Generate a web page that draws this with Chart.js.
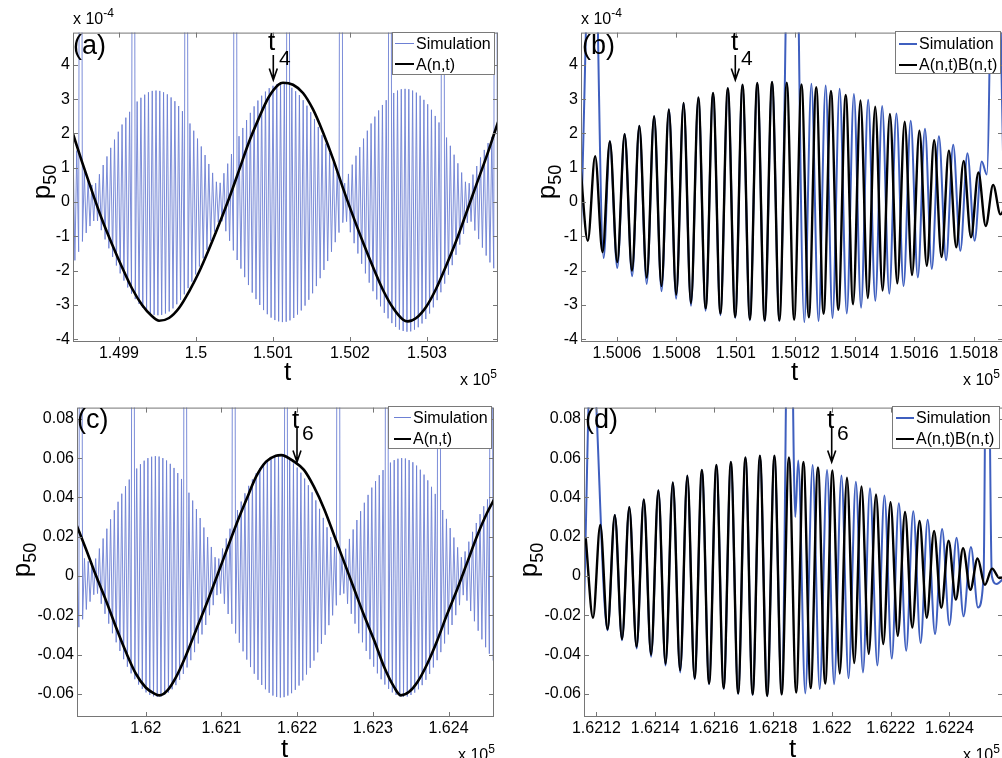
<!DOCTYPE html>
<html>
<head>
<meta charset="utf-8">
<script src="https://cdn.jsdelivr.net/npm/chart.js@4"></script>
<style>
html, body { margin: 0; padding: 0; background: #fff; }
body { width: 1002px; height: 758px; overflow: hidden; position: relative; font-family: "Liberation Sans", Arial, sans-serif; color: #000; }
canvas { position: absolute; }
.tx { position: absolute; white-space: nowrap; line-height: 1; }
.leg { position: absolute; background: #fff; border: 1px solid #7a7a7a; box-sizing: border-box; font-size: 16px; }
.leg .ls { position: absolute; height: 0; }
.leg .lt { position: absolute; white-space: nowrap; line-height: 1; }
.ylab { position: absolute; white-space: nowrap; line-height: 1; font-size: 26px; transform: translate(-50%, -50%) rotate(-90deg); }
.ylab span { font-size: 18px; position: relative; top: 6px; }
svg { position: absolute; left: 0; top: 0; overflow: visible; }
</style>
</head>
<body>

<canvas id="pa" width="503" height="352" style="left:3px;top:20px"></canvas>
<canvas id="pb" width="500" height="352" style="left:511px;top:20px"></canvas>
<canvas id="pc" width="495" height="352" style="left:7px;top:395px"></canvas>
<canvas id="pd" width="497" height="352" style="left:514px;top:395px"></canvas>

<!-- arrows -->
<svg width="1002" height="758">
  <g stroke="#000" stroke-width="1.6" fill="none">
    <path d="M273.3 55 V80 M269.3 68.5 L273.3 80 L277.3 68.5"/>
    <path d="M735.3 55 V80 M731.3 68.5 L735.3 80 L739.3 68.5"/>
    <path d="M297 427 V462 M293 450.5 L297 462 L301 450.5"/>
    <path d="M831.7 427 V462 M827.7 450.5 L831.7 462 L835.7 450.5"/>
  </g>
</svg>

<!-- panel letters -->
<div class="tx" style="font-size:27px;left:73px;top:32px">(a)</div>
<div class="tx" style="font-size:27px;left:582px;top:32px">(b)</div>
<div class="tx" style="font-size:27px;left:77px;top:406px">(c)</div>
<div class="tx" style="font-size:27px;left:585px;top:406px">(d)</div>

<!-- t markers -->
<div class="tx" style="font-size:26px;left:268px;top:28px">t</div>
<div class="tx" style="font-size:21px;left:279px;top:47px">4</div>
<div class="tx" style="font-size:26px;left:731px;top:28px">t</div>
<div class="tx" style="font-size:21px;left:741px;top:47px">4</div>
<div class="tx" style="font-size:26px;left:292px;top:406px">t</div>
<div class="tx" style="font-size:21px;left:302px;top:422px">6</div>
<div class="tx" style="font-size:26px;left:827px;top:406px">t</div>
<div class="tx" style="font-size:21px;left:837px;top:422px">6</div>

<!-- axis titles -->
<div class="tx" style="font-size:26px;left:284px;top:358px">t</div>
<div class="tx" style="font-size:26px;left:791px;top:358px">t</div>
<div class="tx" style="font-size:26px;left:281px;top:735px">t</div>
<div class="tx" style="font-size:26px;left:789px;top:735px">t</div>
<div class="ylab" style="left:41px;top:182px">p<span>50</span></div>
<div class="ylab" style="left:546px;top:182px">p<span>50</span></div>
<div class="ylab" style="left:21px;top:560px">p<span>50</span></div>
<div class="ylab" style="left:528px;top:560px">p<span>50</span></div>

<!-- exponent labels -->
<div class="tx" style="font-size:16px;left:73px;top:11px">x 10<span style="font-size:12px;position:relative;top:-7px">-4</span></div>
<div class="tx" style="font-size:16px;left:581px;top:11px">x 10<span style="font-size:12px;position:relative;top:-7px">-4</span></div>
<div class="tx" style="font-size:16px;left:460px;top:372px">x 10<span style="font-size:12px;position:relative;top:-7px">5</span></div>
<div class="tx" style="font-size:16px;left:963px;top:372px">x 10<span style="font-size:12px;position:relative;top:-7px">5</span></div>
<div class="tx" style="font-size:16px;left:458px;top:747px">x 10<span style="font-size:12px;position:relative;top:-7px">5</span></div>
<div class="tx" style="font-size:16px;left:963px;top:747px">x 10<span style="font-size:12px;position:relative;top:-7px">5</span></div>

<!-- legends -->
<div class="leg" style="left:392px;top:32px;width:103px;height:43px">
  <span class="ls" style="left:2px;top:10px;width:19px;border-top:1px solid #6d80d4"></span>
  <span class="lt" style="left:23px;top:3px">Simulation</span>
  <span class="ls" style="left:2px;top:30px;width:19px;border-top:2.5px solid #000"></span>
  <span class="lt" style="left:23px;top:24px">A(n,t)</span>
</div>
<div class="leg" style="left:895px;top:31px;width:106px;height:43px">
  <span class="ls" style="left:3px;top:11px;width:18px;border-top:2px solid #3f5fbf"></span>
  <span class="lt" style="left:23px;top:4px">Simulation</span>
  <span class="ls" style="left:3px;top:32px;width:18px;border-top:2px solid #000"></span>
  <span class="lt" style="left:23px;top:25px">A(n,t)B(n,t)</span>
</div>
<div class="leg" style="left:388px;top:406px;width:104px;height:43px">
  <span class="ls" style="left:5px;top:10px;width:17px;border-top:1px solid #6d80d4"></span>
  <span class="lt" style="left:24px;top:3px">Simulation</span>
  <span class="ls" style="left:5px;top:31px;width:17px;border-top:2.5px solid #000"></span>
  <span class="lt" style="left:24px;top:24px">A(n,t)</span>
</div>
<div class="leg" style="left:892px;top:406px;width:108px;height:43px">
  <span class="ls" style="left:3px;top:10px;width:18px;border-top:2px solid #3f5fbf"></span>
  <span class="lt" style="left:23px;top:3px">Simulation</span>
  <span class="ls" style="left:3px;top:31px;width:18px;border-top:2px solid #000"></span>
  <span class="lt" style="left:23px;top:24px">A(n,t)B(n,t)</span>
</div>

<script>
// ── TICKS ──
const yTicksAB = [-4, -3, -2, -1, 0, 1, 2, 3, 4];
const yLabelsAB = ['-4', '-3', '-2', '-1', '0', '1', '2', '3', '4'];
const yTicksCD = [-0.06, -0.04, -0.02, 0, 0.02, 0.04, 0.06, 0.08];
const yLabelsCD = ['-0.06', '-0.04', '-0.02', '0', '0.02', '0.04', '0.06', '0.08'];
const xTicksA = [149900, 150000, 150100, 150200, 150300];
const xLabelsA = ['1.499', '1.5', '1.501', '1.502', '1.503'];
const xTicksB = [150060, 150080, 150100, 150120, 150140, 150160, 150180];
const xLabelsB = ['1.5006', '1.5008', '1.501', '1.5012', '1.5014', '1.5016', '1.5018'];
const xTicksC = [162000, 162100, 162200, 162300, 162400];
const xLabelsC = ['1.62', '1.621', '1.622', '1.623', '1.624'];
const xTicksD = [162120, 162140, 162160, 162180, 162200, 162220, 162240];
const xLabelsD = ['1.6212', '1.6214', '1.6216', '1.6218', '1.622', '1.6222', '1.6224'];

// ── PANEL (a): envelope A(n,t), p50 in units of 1e-4 ──
const tA = [149840, 149852, 149865, 149878, 149891, 149904, 149917, 149930, 149943, 149952,
  149965, 149978, 149991, 150004, 150017, 150030, 150043, 150056, 150068, 150081,
  150094, 150107, 150113, 150126, 150139, 150152, 150165, 150178, 150191, 150204,
  150217, 150230, 150243, 150256, 150269, 150275, 150286, 150299, 150312, 150325,
  150338, 150351, 150364, 150377, 150390, 150393];
const envA = [2.01, 1.17, 0.31, -0.51, -1.23, -1.9, -2.52, -3.0, -3.33, -3.46,
  -3.38, -3.09, -2.61, -2.04, -1.37, -0.65, 0.11, 0.93, 1.7, 2.41,
  3.04, 3.42, 3.48, 3.42, 3.18, 2.7, 2.03, 1.26, 0.4, -0.41,
  -1.18, -1.9, -2.57, -3.09, -3.43, -3.48, -3.38, -3.05, -2.52, -1.85,
  -1.13, -0.32, 0.5, 1.31, 2.18, 2.38];
// simulation: one crest and one trough per carrier cycle (30 = spike off the top)
const simA_t0 = 149840.3, simA_dt = 4.9;
const simA_hi = [1.75, 1.5, 30, 0.9, 0.65, 0.5,
  0.55, 0.81, 1.08, 1.33, 1.58, 1.82, 2.05, 2.26, 2.46, 2.63, 30, 2.93, 3.04, 3.13, 3.2, 3.24, 3.25, 3.24, 3.2, 3.14, 3.05, 2.94, 2.8, 2.65, 30, 2.29, 2.08, 1.85, 1.62, 1.37, 1.11, 0.85, 0.59,
  0.56, 0.84, 1.12, 1.4, 30, 1.92, 2.16, 2.39, 2.6, 2.79, 2.96, 3.1, 3.22, 3.32, 3.39, 3.44, 3.45, 3.44, 30, 3.33, 3.23, 3.12, 2.97, 2.81, 2.62, 2.42, 2.19, 1.95, 1.7, 1.43, 1.16, 0.88, 30,
  0.55, 0.82, 1.09, 1.35, 1.6, 1.85, 2.08, 2.29, 2.49, 2.67, 2.83, 2.97, 30, 3.18, 3.25, 3.29, 3.3, 3.29, 3.25, 3.19, 3.1, 2.98, 2.85, 2.69, 2.51, 2.32, 30, 1.88, 1.64, 1.38, 1.13, 0.86, 0.59,
  0.55, 0.8, 1.05, 1.3, 1.52, 1.72, 1.9, 30];
const simA_lo = [-1.7, -1.45, -1.15, -0.9, -0.7, -0.55,
  -0.55, -0.82, -1.09, -1.35, -1.6, -1.85, -2.08, -2.29, -2.49, -2.67, -2.83, -2.97, -3.08, -3.18, -3.25, -3.29, -3.3, -3.29, -3.25, -3.19, -3.1, -2.98, -2.85, -2.69, -2.51, -2.32, -2.11, -1.88, -1.64, -1.39, -1.13, -0.86, -0.59,
  -0.56, -0.85, -1.13, -1.41, -1.69, -1.94, -2.19, -2.42, -2.64, -2.83, -3.0, -3.15, -3.27, -3.37, -3.44, -3.48, -3.5, -3.49, -3.45, -3.38, -3.28, -3.16, -3.02, -2.85, -2.66, -2.45, -2.22, -1.98, -1.72, -1.45, -1.17, -0.89, -0.6,
  -0.57, -0.88, -1.2, -1.5, -1.8, -2.08, -2.35, -2.6, -2.84, -3.04, -3.23, -3.39, -3.53, -3.64, -3.72, -3.76, -3.78, -3.77, -3.72, -3.65, -3.54, -3.41, -3.25, -3.07, -2.86, -2.63, -2.38, -2.12, -1.84, -1.54, -1.24, -0.93, -0.61,
  -0.57, -0.83, -1.08, -1.33, -1.56, -1.76, -1.93, -2.08];

// ── PANEL (b): A(n,t)B(n,t) extrema, 1e-4 units ──
const abB_t0 = 150047.7, abB_dt = 2.479;
const abB = [1.05, -1.13, 1.34, -1.46, 1.77, -1.75, 1.98, -2.0, 2.22, -2.2,
  2.5, -2.45, 2.7, -2.7, 2.89, -2.95, 3.05, -3.1, 3.18, -3.25,
  3.32, -3.35, 3.42, -3.42, 3.47, -3.45, 3.5, -3.45, 3.48, -3.43,
  3.43, -3.36, 3.35, -3.26, 3.24, -3.14, 3.12, -2.98, 2.96, -2.8,
  2.78, -2.58, 2.57, -2.37, 2.34, -2.13, 2.08, -1.86, 1.8, -1.6,
  1.5, -1.32, 1.2, -1.03, 0.86, -0.7, 0.5, -0.36, 0.15];
const simB_t = [150047.9, 150051.9, 150055.5, 150057.6, 150060.1, 150062.6, 150065.1, 150067.5, 150070.0, 150072.5,
  150075.0, 150077.5, 150079.9, 150082.4, 150084.9, 150087.4, 150089.8, 150092.3, 150094.8, 150097.3,
  150099.8, 150102.2, 150104.7, 150107.2, 150109.7, 150112.2, 150114.6, 150119.1, 150123.0, 150125.4,
  150127.8, 150130.2, 150132.5, 150134.9, 150137.3, 150139.7, 150142.1, 150144.5, 150146.9, 150149.2,
  150151.6, 150154.0, 150156.4, 150158.8, 150161.2, 150163.6, 150165.9, 150168.3, 150170.7, 150173.1,
  150175.5, 150177.9, 150180.3, 150182.7, 150184.4, 150187.0, 150190.2];
const simB = [-0.77, 10.5, -1.63, 1.77, -1.92, 1.98, -2.16, 2.22, -2.39, 2.5,
  -2.6, 2.7, -2.82, 2.89, -3.02, 3.05, -3.17, 3.18, -3.3, 3.32,
  -3.38, 3.42, -3.45, 3.47, -3.47, 3.5, -3.47, 15, -3.5, 3.45,
  -3.47, 3.4, -3.38, 3.3, -3.25, 3.15, -3.08, 2.98, -2.88, 2.8,
  -2.67, 2.58, -2.45, 2.37, -2.2, 2.14, -1.95, 1.92, -1.7, 1.67,
  -1.42, 1.42, -1.13, 1.18, 0.8, 12, 0];

// ── PANEL (c): envelope A(n,t) ──
const tC = [161909, 161921, 161934, 161948, 161961, 161974, 161987, 162000, 162011, 162018,
  162029, 162040, 162053, 162066, 162080, 162093, 162106, 162119, 162133, 162146,
  162159, 162172, 162179, 162196, 162209, 162222, 162236, 162249, 162262, 162275,
  162288, 162302, 162315, 162328, 162337, 162348, 162359, 162372, 162385, 162398,
  162412, 162425, 162438, 162451, 162461];
const envC = [0.0256, 0.0138, 0.0005, -0.0129, -0.0263, -0.0388, -0.0497, -0.0567, -0.0597, -0.0607,
  -0.058, -0.0514, -0.0405, -0.0279, -0.0145, -0.0012, 0.0122, 0.0256, 0.0389, 0.0507,
  0.0582, 0.0612, 0.0615, 0.0582, 0.054, 0.0456, 0.0339, 0.0206, 0.0072, -0.0062,
  -0.0196, -0.0329, -0.0463, -0.0564, -0.0607, -0.0589, -0.0539, -0.0446, -0.0329, -0.0196,
  -0.0062, 0.0072, 0.0206, 0.0322, 0.0395];
const simC_t0 = 161909.2, simC_dt = 4.93;
const simC_hi = [0.013, 0.5, 0.009, 0.0075, 0.0065,
  0.0089, 0.014, 0.0191, 0.0241, 0.0289, 0.0335, 0.0378, 0.0419, 0.0457, 0.0491, 0.5, 0.0547, 0.0569, 0.0587, 0.06, 0.0607, 0.061, 0.0608, 0.06, 0.0588, 0.0571, 0.055, 0.0524, 0.0494, 0.5, 0.0424, 0.0384, 0.0341, 0.0295, 0.0247, 0.0198, 0.0148, 0.0096,
  0.0089, 0.014, 0.0191, 0.0241, 0.5, 0.0336, 0.0379, 0.0421, 0.0459, 0.0492, 0.0523, 0.0549, 0.0571, 0.0589, 0.0602, 0.0609, 0.0612, 0.061, 0.5, 0.059, 0.0573, 0.0552, 0.0526, 0.0496, 0.0462, 0.0426, 0.0385, 0.0342, 0.0296, 0.0248, 0.0198, 0.0148, 0.5,
  0.0089, 0.0139, 0.0189, 0.0237, 0.0285, 0.033, 0.0373, 0.0413, 0.045, 0.0483, 0.0513, 0.0539, 0.5, 0.0577, 0.059, 0.0597, 0.06, 0.0598, 0.059, 0.0579, 0.0562, 0.0541, 0.0516, 0.0487, 0.0454, 0.0418, 0.5, 0.0336, 0.0291, 0.0244, 0.0196, 0.0146, 0.0096,
  0.0125, 0.0175, 0.0225, 0.027, 0.0315, 0.0355, 0.039, 0.5];
const simC_lo = [-0.026, -0.022, -0.017, -0.013, -0.0095,
  -0.0089, -0.0141, -0.0192, -0.0242, -0.0291, -0.0337, -0.0381, -0.0423, -0.0461, -0.0495, -0.0525, -0.0552, -0.0574, -0.0592, -0.0605, -0.0612, -0.0615, -0.0613, -0.0605, -0.0593, -0.0576, -0.0555, -0.0528, -0.0498, -0.0465, -0.0428, -0.0387, -0.0343, -0.0297, -0.0249, -0.0199, -0.0148, -0.0097,
  -0.0089, -0.0141, -0.0193, -0.0243, -0.0292, -0.0339, -0.0383, -0.0425, -0.0463, -0.0497, -0.0528, -0.0554, -0.0576, -0.0594, -0.0608, -0.0615, -0.0618, -0.0616, -0.0608, -0.0596, -0.0579, -0.0557, -0.0531, -0.0501, -0.0467, -0.043, -0.0388, -0.0345, -0.0299, -0.025, -0.02, -0.0149, -0.0097,
  -0.0089, -0.0141, -0.0192, -0.0242, -0.0291, -0.0337, -0.0381, -0.0423, -0.0461, -0.0495, -0.0525, -0.0552, -0.0574, -0.0592, -0.0605, -0.0612, -0.0615, -0.0613, -0.0605, -0.0593, -0.0576, -0.0555, -0.0528, -0.0498, -0.0465, -0.0428, -0.0387, -0.0343, -0.0297, -0.0249, -0.0199, -0.0148, -0.0097,
  -0.0125, -0.0178, -0.023, -0.0278, -0.0322, -0.0362, -0.0395, -0.043];

// ── PANEL (d): A(n,t)B(n,t) extrema ──
const abD_t0 = 162116.4, abD_dt = 2.466;
const abD = [0.0192, -0.0212, 0.026, -0.027, 0.031, -0.032, 0.035, -0.036, 0.039, -0.04,
  0.0436, -0.0446, 0.0476, -0.048, 0.051, -0.052, 0.054, -0.0547, 0.0565, -0.057,
  0.058, -0.0597, 0.0603, -0.0602, 0.0612, -0.061, 0.0612, -0.0602, 0.0603, -0.0593,
  0.058, -0.057, 0.0553, -0.0547, 0.0537, -0.0496, 0.05, -0.0443, 0.0456, -0.0396,
  0.0415, -0.0346, 0.0376, -0.0304, 0.0326, -0.0262, 0.028, -0.0212, 0.023, -0.0162,
  0.018, -0.012, 0.0142, -0.007, 0.0089, -0.0045, 0.0038, -0.001, 0.0005];
const simD_t = [162115.8, 162118.3, 162123.8, 162126.3, 162128.7, 162131.2, 162133.7, 162136.1, 162138.6, 162141.1,
  162143.5, 162146.0, 162148.5, 162150.9, 162153.4, 162155.9, 162158.3, 162160.8, 162163.3, 162165.7,
  162168.2, 162170.7, 162173.1, 162175.6, 162178.1, 162180.5, 162183.0, 162185.65, 162187.6, 162188.6,
  162191.0, 162193.5, 162195.9, 162198.4, 162200.8, 162203.3, 162205.7, 162208.2, 162210.6, 162213.0,
  162215.5, 162217.9, 162220.4, 162222.8, 162225.3, 162227.7, 162230.2, 162232.6, 162235.1, 162237.5,
  162240.0, 162242.4, 162244.8, 162247.3, 162249.7, 162251.6, 162252.8, 162254.4, 162256.0, 162259.5];
const simD = [-0.016, 0.12, -0.0276, 0.031, -0.0326, 0.035, -0.0368, 0.039, -0.041, 0.0436,
  -0.0455, 0.0476, -0.049, 0.051, -0.0525, 0.054, -0.055, 0.0565, -0.0575, 0.058,
  -0.06, 0.0603, -0.0605, 0.0612, -0.061, 0.0612, -0.0602, 0.205, 0.03, 0.0588,
  -0.0597, 0.0565, -0.0575, 0.054, -0.055, 0.0512, -0.052, 0.048, -0.049, 0.0447,
  -0.0455, 0.041, -0.042, 0.037, -0.038, 0.033, -0.034, 0.0287, -0.0295, 0.024,
  -0.025, 0.0195, -0.0205, 0.0148, -0.016, 0.0, 0.2, 0.0, -0.004, 0.001];

// ── HELPERS ──
function zipXY(xs, ys) {
  return ys.map((y, i) => ({ x: xs[i], y: y }));
}
function stepXY(t0, dt, ys) {
  return ys.map((y, i) => ({ x: t0 + dt * i, y: y }));
}
function crestTrough(t0, dt, hi, lo) {
  const pts = [];
  hi.forEach((h, k) => {
    pts.push({ x: t0 + dt * k, y: h });
    pts.push({ x: t0 + dt * k + dt / 2, y: lo[k] });
  });
  return pts;
}

const FONT = { family: "'Liberation Sans', Arial, sans-serif", size: 16 };

// box + inward ticks on all four sides (matlab style)
const framePlugin = {
  id: 'frame',
  afterDatasetsDraw(chart) {
    const { ctx, chartArea: a, scales } = chart;
    const x = scales.x, y = scales.y;
    ctx.save();
    ctx.strokeStyle = '#767676';
    ctx.lineWidth = 1;
    ctx.strokeRect(a.left + 0.5, a.top + 0.5, a.right - a.left - 1, a.bottom - a.top - 1);
    ctx.beginPath();
    x.ticks.forEach(t => {
      const px = Math.round(x.getPixelForValue(t.value)) + 0.5;
      ctx.moveTo(px, a.bottom); ctx.lineTo(px, a.bottom - 5);
      ctx.moveTo(px, a.top); ctx.lineTo(px, a.top + 5);
    });
    y.ticks.forEach(t => {
      const py = Math.round(y.getPixelForValue(t.value)) + 0.5;
      ctx.moveTo(a.left, py); ctx.lineTo(a.left + 5, py);
      ctx.moveTo(a.right, py); ctx.lineTo(a.right - 5, py);
    });
    ctx.stroke();
    ctx.restore();
  }
};

function makePanel(id, xr, yr, xt, xl, yt, yl, datasets) {
  return new Chart(document.getElementById(id), {
    type: 'line',
    data: { datasets: datasets },
    options: {
      responsive: false,
      animation: false,
      events: [],
      devicePixelRatio: 1,
      layout: { padding: { left: 0, top: 8, right: 8, bottom: 0 } },
      plugins: { legend: { display: false }, tooltip: { enabled: false } },
      elements: { point: { radius: 0 } },
      scales: {
        x: {
          type: 'linear', min: xr[0], max: xr[1],
          grid: { display: false, drawTicks: false }, border: { display: false },
          afterFit: s => { s.height = 30; },
          afterBuildTicks: s => { s.ticks = xt.map(v => ({ value: v })); },
          ticks: { font: FONT, color: '#000', padding: 2, maxRotation: 0, autoSkip: false,
                   callback: (v, i) => xl[i] }
        },
        y: {
          type: 'linear', min: yr[0], max: yr[1],
          grid: { display: false, drawTicks: false }, border: { display: false },
          afterFit: s => { s.width = 70; },
          afterBuildTicks: s => { s.ticks = yt.map(v => ({ value: v })); },
          ticks: { font: FONT, color: '#000', padding: 3, autoSkip: false,
                   callback: (v, i) => yl[i] }
        }
      }
    },
    plugins: [framePlugin]
  });
}

const BLUE_THIN = '#6d80d4';
const BLUE = '#3f5fbf';

// (a)
makePanel('pa', [149840.3, 150392.2], [-4.08, 4.94], xTicksA, xLabelsA, yTicksAB, yLabelsAB, [
  { label: 'A(n,t)', data: zipXY(tA, envA), borderColor: '#000', borderWidth: 2.6,
    cubicInterpolationMode: 'monotone', clip: 0 },
  { label: 'Simulation', data: crestTrough(simA_t0, simA_dt, simA_hi, simA_lo), borderColor: BLUE_THIN,
    borderWidth: 0.9, tension: 0, clip: 0 }
]);

// (b)
makePanel('pb', [150047.9, 150189.85], [-4.08, 4.94], xTicksB, xLabelsB, yTicksAB, yLabelsAB, [
  { label: 'A(n,t)B(n,t)', data: stepXY(abB_t0, abB_dt, abB), borderColor: '#000', borderWidth: 2.4,
    cubicInterpolationMode: 'monotone', clip: 0 },
  { label: 'Simulation', data: zipXY(simB_t, simB), borderColor: BLUE, borderWidth: 2,
    cubicInterpolationMode: 'monotone', clip: 0 }
]);

// (c)
makePanel('pc', [161909.2, 162460.1], [-0.0717, 0.0857], xTicksC, xLabelsC, yTicksCD, yLabelsCD, [
  { label: 'A(n,t)', data: zipXY(tC, envC), borderColor: '#000', borderWidth: 2.6,
    cubicInterpolationMode: 'monotone', clip: 0 },
  { label: 'Simulation', data: crestTrough(simC_t0, simC_dt, simC_hi, simC_lo), borderColor: BLUE_THIN,
    borderWidth: 0.9, tension: 0, clip: 0 }
]);

// (d)
makePanel('pd', [162115.8, 162258.2], [-0.0717, 0.0857], xTicksD, xLabelsD, yTicksCD, yLabelsCD, [
  { label: 'A(n,t)B(n,t)', data: stepXY(abD_t0, abD_dt, abD), borderColor: '#000', borderWidth: 2.4,
    cubicInterpolationMode: 'monotone', clip: 0 },
  { label: 'Simulation', data: zipXY(simD_t, simD), borderColor: BLUE, borderWidth: 2,
    cubicInterpolationMode: 'monotone', clip: 0 }
]);
</script>
</body>
</html>
